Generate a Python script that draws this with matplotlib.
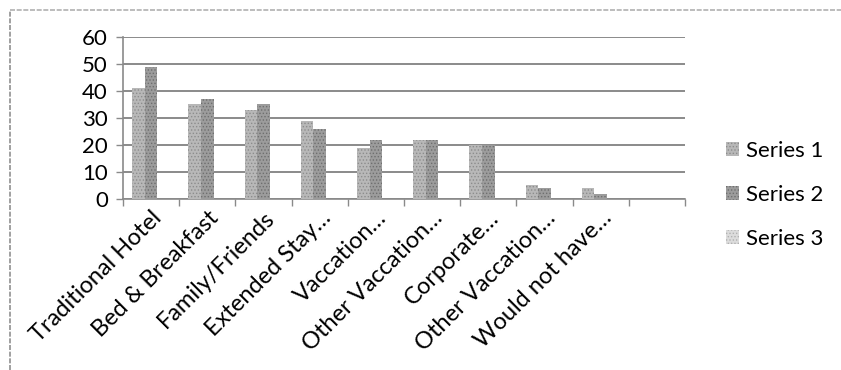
import numpy as np
import matplotlib
matplotlib.use('Agg')
import matplotlib.pyplot as plt
from matplotlib.lines import Line2D

# Accommodation survey: share of responses per option
categories = ["Traditional Hotel", "Bed & Breakfast", "Family/Friends", "Extended Stay…",
              "Vaccation…", "Other Vaccation…", "Corporate…", "Other Vaccation…",
              "Would not have…", ""]
series1 = [41, 35, 33, 29, 19, 22, 20, 5, 4, 0]
series2 = [49, 37, 35, 26, 22, 22, 20, 4, 2, 0]
series3 = [0, 0, 0, 0, 0, 0, 0, 0, 0, 0]
series_names = ["Series 1", "Series 2", "Series 3"]
yticks = [0, 10, 20, 30, 40, 50, 60]

plt.rcParams['font.family'] = ['Lato', 'DejaVu Sans']
plt.rcParams['hatch.linewidth'] = 0.6

fig = plt.figure(figsize=(8.41, 3.70), dpi=100)
ax = fig.add_axes([0.1463, 0.4622, 0.8145 - 0.1463, 0.9 - 0.4622])

x = np.arange(len(categories))
w = 0.225
styles = [('#b8b8b8', '#8c8c8c', '.....'),
          ('#9c9c9c', '#6e6e6e', '.....'),
          ('#dcdcdc', '#b0b0b0', '.....')]
handles = []
for i, vals in enumerate([series1, series2, series3]):
    fc, hc, hatch = styles[i]
    bars = ax.bar(x + (i - 1) * w, vals, width=w, color=fc, edgecolor=hc,
                  hatch=hatch, linewidth=0, label=series_names[i], zorder=3)
    handles.append(bars)

ax.set_xlim(-0.5, len(categories) - 0.5)
ax.set_ylim(0, 60)
ax.set_yticks(yticks)
ax.set_yticklabels([str(t) for t in yticks], fontsize=16)
ax.yaxis.grid(True, color='#8a8a8a', linewidth=1.4, zorder=0)
ax.tick_params(axis='y', length=5, color='#8a8a8a', width=1, pad=6)

# category labels centred, boundary tick marks
ax.set_xticks(x)
ax.set_xticklabels(categories, rotation=45, ha='right', va='top',
                   rotation_mode='anchor', fontsize=17)
ax.tick_params(axis='x', length=0, pad=6)
ax.set_xticks(np.arange(len(categories) + 1) - 0.5, minor=True)
ax.tick_params(axis='x', which='minor', length=5, color='#8a8a8a', width=1)

for side in ['top', 'right']:
    ax.spines[side].set_visible(False)
for side in ['left', 'bottom']:
    ax.spines[side].set_color('#8a8a8a')
    ax.spines[side].set_linewidth(1.2)
    ax.spines[side].set_linestyle((0, (2, 1)))

fig.legend(handles=handles, labels=series_names, loc='upper left',
           bbox_to_anchor=(726 / 841, 0.62), frameon=False, fontsize=16,
           borderpad=0, borderaxespad=0,
           handlelength=0.6, handleheight=0.6, handletextpad=0.3,
           labelspacing=1.08)

# chart frame (top and left edges)
fig.add_artist(Line2D([0.012, 1.0], [0.973, 0.973], color='#b0b0b0',
                      linewidth=1.2, linestyle=(0, (3, 1))))
fig.add_artist(Line2D([0.012, 0.012], [0.0, 0.973], color='#909090',
                      linewidth=1.2, linestyle=(0, (3, 1))))

fig.savefig('out.png', dpi=100)
